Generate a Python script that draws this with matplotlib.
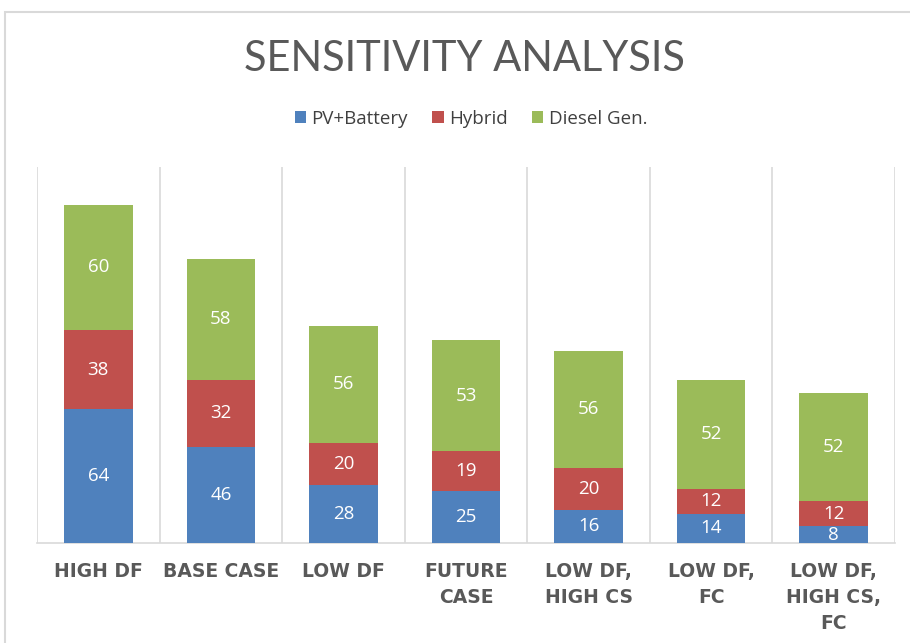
import matplotlib
matplotlib.use("Agg")
import matplotlib.pyplot as plt
from matplotlib.patches import Rectangle
import numpy as np

categories = ["HIGH DF", "BASE CASE", "LOW DF", "FUTURE\nCASE", "LOW DF,\nHIGH CS",
              "LOW DF,\nFC", "LOW DF,\nHIGH CS,\nFC"]
pv_battery = [64, 46, 28, 25, 16, 14, 8]
hybrid = [38, 32, 20, 19, 20, 12, 12]
diesel = [60, 58, 56, 53, 56, 52, 52]
series_names = ["PV+Battery", "Hybrid", "Diesel Gen."]
colors = ["#4F81BD", "#C0504D", "#9BBB59"]

plt.rcParams['font.family'] = ['Open Sans', 'DejaVu Sans']

fig = plt.figure(figsize=(9.10, 6.43), dpi=100)
fig.patch.set_facecolor("white")
# outer chart border (partly cropped in reference)
fig.patches.append(Rectangle((5/910, -0.1), 1.2, (1 - 12/643) + 0.1,
                             transform=fig.transFigure, fill=False,
                             edgecolor="#D9D9D9", linewidth=1.5))

ax = fig.add_axes([37/910, 1 - 543/643, (895 - 37)/910, (543 - 167)/643])
x = np.arange(len(categories))
w = 0.56
bottom = np.zeros(len(categories))
for name, vals, c in zip(series_names, [pv_battery, hybrid, diesel], colors):
    vals = np.array(vals, dtype=float)
    ax.bar(x, vals, w, bottom=bottom, color=c, label=name, zorder=3)
    for xi, b, v in zip(x, bottom, vals):
        ax.text(xi, b + v / 2, f"{int(v)}", ha="center", va="center",
                color="white", fontsize=13.5, zorder=4)
    bottom += vals

ax.set_xlim(-0.5, len(categories) - 0.5)
ax.set_ylim(0, 180)
ax.vlines(np.arange(len(categories) + 1) - 0.5, 0, 180, color="#D9D9D9",
          linewidth=1.2, zorder=1)
for s in ["top", "right", "left"]:
    ax.spines[s].set_visible(False)
ax.spines["bottom"].set_color("#D9D9D9")
ax.spines["bottom"].set_linewidth(1.2)
ax.set_yticks([])
ax.set_xticks(x)
ax.set_xticklabels(categories, fontsize=13.5, fontweight="bold", color="#595959",
                   linespacing=1.45, family=["DejaVu Sans"])
ax.tick_params(axis="x", length=0, pad=14)

fig.text(464/910, 1 - 59/643, "SENSITIVITY ANALYSIS", ha="center", va="center",
         fontsize=30, color="#595959", family=["Lato", "DejaVu Sans"],
         fontweight="normal")

leg = fig.legend(loc="center", bbox_to_anchor=(471/910, 1 - 119/643), ncol=3,
                 frameon=False, fontsize=13.5, handlelength=0.6, handleheight=0.6,
                 handletextpad=0.3, columnspacing=1.3)
for t in leg.get_texts():
    t.set_color("#404040")

fig.savefig("out.png", dpi=100, facecolor="white")
